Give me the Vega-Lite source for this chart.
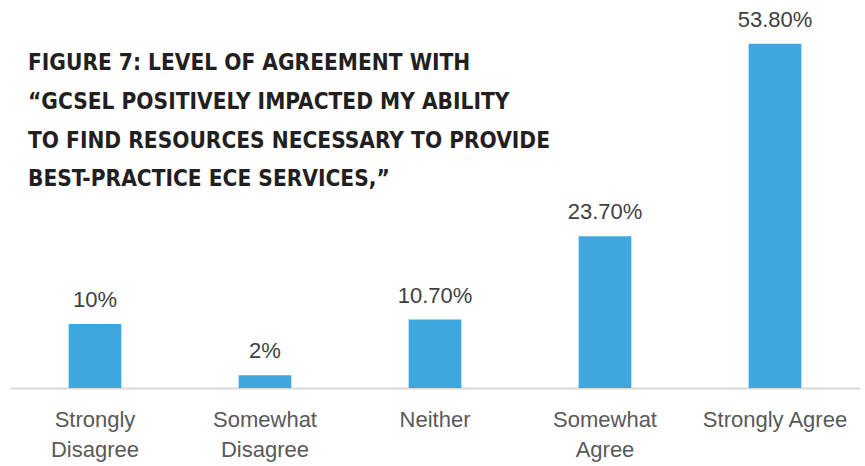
{
  "$schema": "https://vega.github.io/schema/vega-lite/v6.json",
  "width": 850,
  "height": 384,
  "autosize": "none",
  "padding": {"left": 10, "top": 4, "right": 5, "bottom": 78},
  "background": "white",
  "title": {
    "text": ["FIGURE 7: LEVEL OF AGREEMENT WITH", "“GCSEL POSITIVELY IMPACTED MY ABILITY", "TO FIND RESOURCES NECESSARY TO PROVIDE", "BEST-PRACTICE ECE SERVICES,”"],
    "anchor": "start",
    "frame": "group",
    "baseline": "top",
    "font": "Liberation Sans Narrow, DejaVu Sans Condensed, sans-serif",
    "fontSize": 22.5,
    "fontWeight": "bold",
    "color": "#231F20",
    "lineHeight": 38.7,
    "dx": 18,
    "dy": 187,
    "offset": 0
  },
  "data": {
    "values": [
      {"response": "Strongly Disagree", "pct": 10, "text": "10%"},
      {"response": "Somewhat Disagree", "pct": 2, "text": "2%"},
      {"response": "Neither", "pct": 10.7, "text": "10.70%"},
      {"response": "Somewhat Agree", "pct": 23.7, "text": "23.70%"},
      {"response": "Strongly Agree", "pct": 53.8, "text": "53.80%"}
    ]
  },
  "encoding": {
    "x": {
      "field": "response",
      "type": "nominal",
      "sort": null,
      "scale": {"paddingInner": 0.69, "paddingOuter": 0.345},
      "axis": {
        "title": null,
        "labelAngle": 0,
        "ticks": false,
        "domainColor": "#D9D9D9",
        "domainWidth": 2,
        "labelPadding": 21,
        "labelFont": "Liberation Sans, Arial, sans-serif",
        "labelFontSize": 22,
        "labelColor": "#595959",
        "labelLineHeight": 30,
        "labelBaseline": "top",
        "labelExpr": "datum.value == 'Strongly Agree' ? datum.value : split(datum.value, ' ')"
      }
    },
    "y": {
      "field": "pct",
      "type": "quantitative",
      "scale": {"domain": [0, 60], "nice": false},
      "axis": null
    }
  },
  "layer": [
    {"mark": {"type": "bar", "color": "#3EA8DE"}},
    {
      "mark": {
        "type": "text",
        "baseline": "bottom",
        "dy": -12,
        "font": "Liberation Sans, Arial, sans-serif",
        "fontSize": 22,
        "color": "#404040"
      },
      "encoding": {"text": {"field": "text"}}
    }
  ],
  "config": {"view": {"stroke": null}}
}
